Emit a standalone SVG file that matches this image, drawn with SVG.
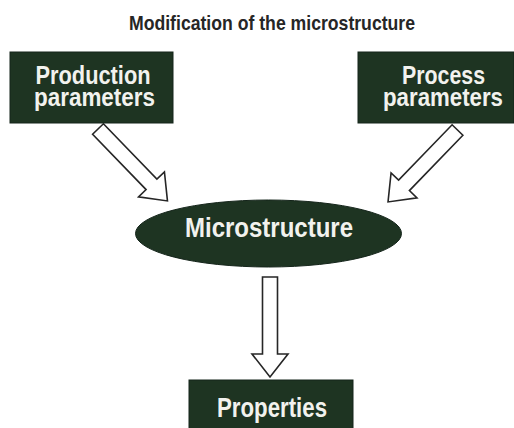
<svg xmlns="http://www.w3.org/2000/svg" width="514" height="428" viewBox="0 0 514 428">
  <style>
    .box { fill: #1e3422; stroke: #14241a; stroke-width: 1; }
    .lbl { font-family: "Liberation Sans", Arial, sans-serif; font-weight: bold; font-size: 28px; fill: #f2f2ee; text-anchor: middle; }
    .lbl2 { font-family: "Liberation Sans", Arial, sans-serif; font-weight: bold; font-size: 25px; fill: #f2f2ee; text-anchor: middle; }
    .title { font-family: "Liberation Sans", Arial, sans-serif; font-weight: bold; font-size: 21px; fill: #262626; text-anchor: middle; }
    .arrow { fill: #ffffff; stroke: #262626; stroke-width: 1.6; stroke-linejoin: miter; }
  </style>
  <defs>
    <path id="blockArrow" d="M0,-7.5 L77,-7.5 L77,-18 L100,0 L77,18 L77,7.5 L0,7.5 Z"/>
  </defs>
  <rect width="514" height="428" fill="#ffffff"/>

  <text class="title" x="272" y="30" textLength="286" lengthAdjust="spacingAndGlyphs">Modification of the microstructure</text>

  <g id="connectors">
    <use href="#blockArrow" class="arrow" transform="translate(98,129) rotate(46)"/>
    <use href="#blockArrow" class="arrow" transform="translate(457.5,130) rotate(134)"/>
    <use href="#blockArrow" class="arrow" transform="translate(270,277) rotate(90)"/>
  </g>

  <g id="production">
    <rect class="box" x="10" y="52" width="163" height="71"/>
    <text class="lbl2" x="93" y="84" textLength="115" lengthAdjust="spacingAndGlyphs">Production</text>
    <text class="lbl2" x="94.5" y="106" textLength="121" lengthAdjust="spacingAndGlyphs">parameters</text>
  </g>

  <g id="process">
    <rect class="box" x="358" y="52" width="156" height="71"/>
    <text class="lbl2" x="443.5" y="84" textLength="83" lengthAdjust="spacingAndGlyphs">Process</text>
    <text class="lbl2" x="443" y="106" textLength="120" lengthAdjust="spacingAndGlyphs">parameters</text>
  </g>

  <g id="microstructure">
    <ellipse class="box" cx="268.5" cy="233.5" rx="133" ry="33.5"/>
    <text class="lbl" x="269" y="237" textLength="168" lengthAdjust="spacingAndGlyphs">Microstructure</text>
  </g>

  <g id="properties">
    <rect class="box" x="189" y="380" width="164" height="52"/>
    <text class="lbl" x="272" y="417" textLength="110" lengthAdjust="spacingAndGlyphs">Properties</text>
  </g>
</svg>
